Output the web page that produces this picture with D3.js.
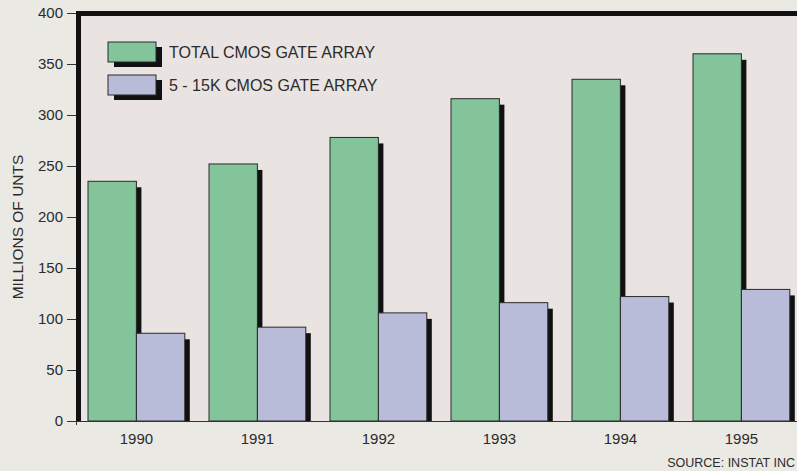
<!DOCTYPE html>
<html>
<head>
<meta charset="utf-8">
<script src="https://cdn.jsdelivr.net/npm/d3@7"></script>
<style>
  html, body { margin: 0; padding: 0; background: #ebe9e4; }
  svg { display: block; font-family: "Liberation Sans", Arial, Helvetica, sans-serif; }
</style>
</head>
<body>
<svg id="chart" width="797" height="471"></svg>
<script>
// Unit shipments, millions
const years = ["1990", "1991", "1992", "1993", "1994", "1995"];
const seriesNames = ["TOTAL CMOS GATE ARRAY", "5 - 15K CMOS GATE ARRAY"];
const totalCmos = [235, 252, 278, 316, 335, 360];
const midCmos = [86, 92, 106, 116, 122, 129];
const yTicks = [0, 50, 100, 150, 200, 250, 300, 350, 400];
const yTitle = "MILLIONS OF UNTS";
const sourceNote = "SOURCE: INSTAT INC";

const colors = ["#83c49b", "#b9bcd9"];
const seriesValues = [totalCmos, midCmos];

const svg = d3.select("#chart");
const W = 797, H = 471;
const plotTop = 13, plotBottom = 421, frameLeft = 76;

const y = d3.scaleLinear().domain([0, 400]).range([plotBottom, plotTop]);
const x = d3.scaleBand().domain(years).range([63.8, 814]).paddingInner(0.2).paddingOuter(0.2);
const xs = d3.scaleBand().domain(seriesNames).range([0, x.bandwidth()]);

// Panel with heavy black top and left edges
svg.append("rect").attr("x", frameLeft).attr("y", plotTop - 2).attr("width", W).attr("height", plotBottom - plotTop + 2).attr("fill", "#111");
svg.append("rect").attr("x", frameLeft + 5).attr("y", plotTop + 3).attr("width", W).attr("height", plotBottom - plotTop - 3).attr("fill", "#e9e3e1");

// Bars with offset drop shadows
const shadowDx = 5, shadowDy = 6;
years.forEach((yr, i) => {
  seriesNames.forEach((s, j) => {
    const v = seriesValues[j][i];
    const bx = x(yr) + xs(s), bw = xs.bandwidth();
    svg.append("rect")
      .attr("x", bx + shadowDx).attr("y", y(v) + shadowDy)
      .attr("width", bw).attr("height", Math.max(0, plotBottom - y(v) - shadowDy))
      .attr("fill", "#111");
    svg.append("rect")
      .attr("x", bx).attr("y", y(v))
      .attr("width", bw).attr("height", plotBottom - y(v))
      .attr("fill", colors[j]).attr("stroke", "#2a2a2a").attr("stroke-width", 1);
  });
});

// Baseline
svg.append("line").attr("x1", frameLeft).attr("x2", W).attr("y1", plotBottom + 0.5).attr("y2", plotBottom + 0.5).attr("stroke", "#333").attr("stroke-width", 1);

// Y axis
const yAxis = svg.append("g").attr("transform", `translate(${frameLeft},0)`)
  .call(d3.axisLeft(y).tickValues(yTicks).tickSize(9).tickPadding(4));
yAxis.select(".domain").remove();
yAxis.selectAll(".tick line").attr("stroke", "#333");
yAxis.selectAll(".tick text").attr("fill", "#2b2b2b").style("font-size", "15px").style("font-family", "Liberation Sans, Arial, sans-serif");
svg.append("line").attr("x1", frameLeft + 0.5).attr("x2", frameLeft + 0.5).attr("y1", plotBottom).attr("y2", plotBottom + 4).attr("stroke", "#333");

// X axis labels
const xAxis = svg.append("g").attr("transform", `translate(0,${plotBottom})`)
  .call(d3.axisBottom(x).tickSize(0).tickPadding(12));
xAxis.select(".domain").remove();
xAxis.selectAll(".tick text").attr("fill", "#2b2b2b").style("font-size", "15px").style("font-family", "Liberation Sans, Arial, sans-serif");

// Y axis title
svg.append("text")
  .attr("transform", `translate(23,227) rotate(-90)`)
  .attr("text-anchor", "middle")
  .attr("fill", "#2b2b2b")
  .style("font-size", "15.5px")
  .text(yTitle);

// Legend
const legend = svg.append("g");
seriesNames.forEach((s, j) => {
  const ly = 42 + j * 33;
  legend.append("rect").attr("x", 108 + 6).attr("y", ly + 5).attr("width", 48).attr("height", 20).attr("fill", "#111");
  legend.append("rect").attr("x", 108).attr("y", ly).attr("width", 48).attr("height", 20)
    .attr("fill", colors[j]).attr("stroke", "#2a2a2a").attr("stroke-width", 1);
  legend.append("text").attr("x", 169).attr("y", ly + 10).attr("dy", "0.35em")
    .attr("fill", "#2b2b2b").style("font-size", "16px").text(s);
});

// Source note
svg.append("text").attr("x", 795).attr("y", 467).attr("text-anchor", "end")
  .attr("fill", "#2b2b2b").style("font-size", "12.5px").text(sourceNote);
</script>
</body>
</html>
